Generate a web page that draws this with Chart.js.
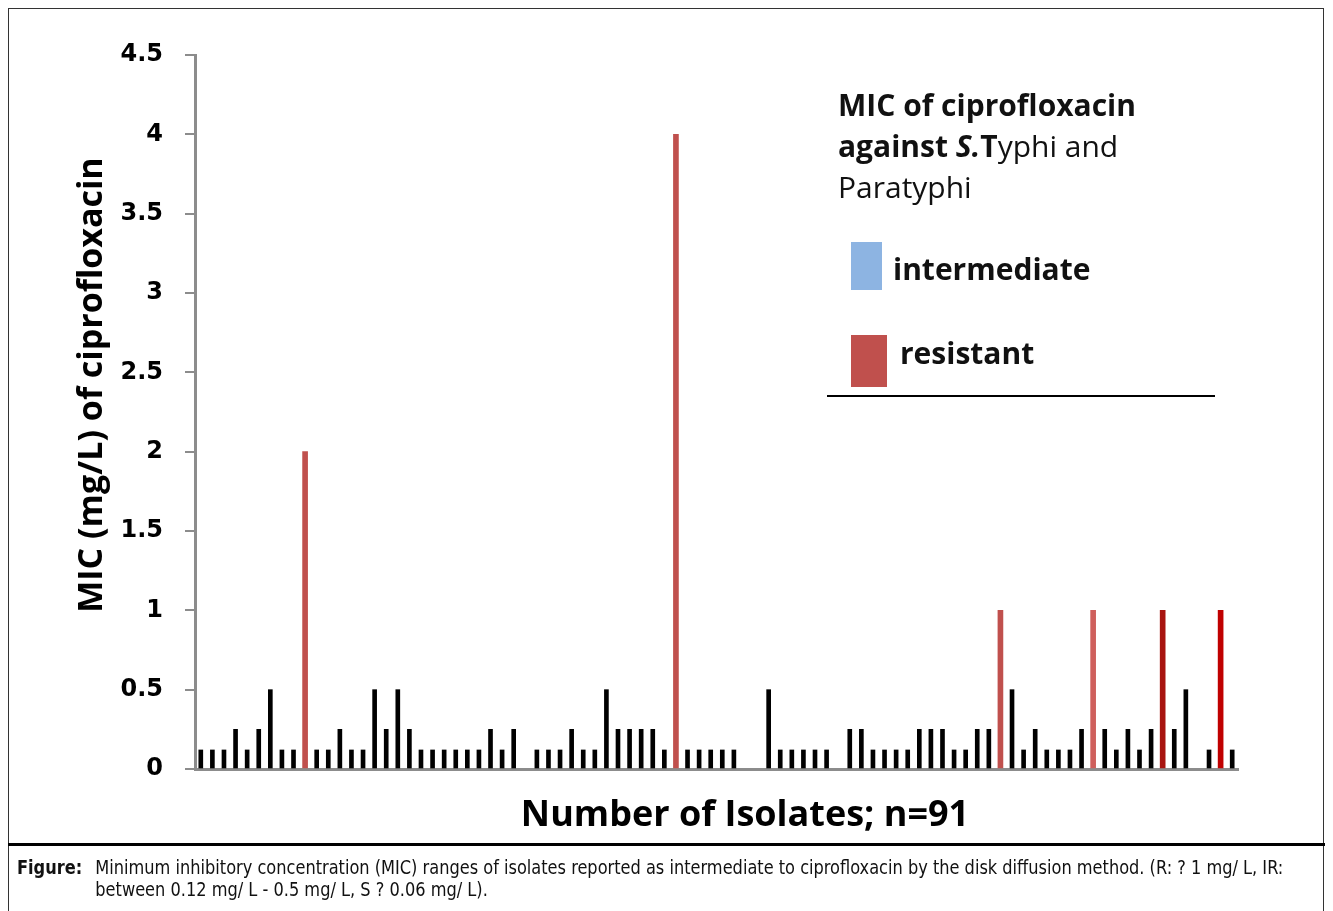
<!DOCTYPE html>
<html>
<head>
<meta charset="utf-8">
<script src="https://cdn.jsdelivr.net/npm/chart.js@4.4.1/dist/chart.umd.min.js"></script>
<style>
  html, body { margin: 0; padding: 0; background: #fff; }
  #wrap { position: relative; width: 1333px; height: 911px; overflow: hidden; }
  #frame { position: absolute; left: 8px; top: 8px; width: 1316px; height: 920px; border: 1px solid #333; box-sizing: border-box; }
  #sep { position: absolute; left: 8px; top: 843px; width: 1317px; height: 3px; background: #000; }
  #chart { position: absolute; left: 0; top: 0; }
  .leg { position: absolute; font-family: "Open Sans", sans-serif; font-size: 30px; color: #111; white-space: nowrap; line-height: 41px; }
  .box { position: absolute; }
  #legLine { position: absolute; left: 827px; top: 395px; width: 388px; height: 2px; background: #000; }
  #caption { position: absolute; left: 17px; top: 856px; font-family: "DejaVu Sans Condensed", sans-serif; font-size: 20px; line-height: 22px; color: #111; white-space: nowrap; transform: scaleX(0.9); transform-origin: 0 0; }
  #caption b { position: absolute; left: 0; top: 0; }
  #caption div { margin-left: 87px; }
</style>
</head>
<body>
<div id="wrap">
  <canvas id="chart" width="1333" height="845"></canvas>
  <div id="frame"></div>
  <div id="sep"></div>

  <div class="leg" style="left:838px; top:84px;"><b>MIC of ciprofloxacin</b><br><b>against <i>S.</i>T</b>yphi and<br>Paratyphi</div>
  <div class="box" style="left:851px; top:242px; width:31px; height:48px; background:#8DB4E2;"></div>
  <div class="leg" style="left:893px; top:248px; font-weight:bold;">intermediate</div>
  <div class="box" style="left:851px; top:335px; width:36px; height:52px; background:#C0504D;"></div>
  <div class="leg" style="left:900px; top:332px; font-weight:bold;">resistant</div>
  <div id="legLine"></div>

  <div id="caption"><b>Figure:</b><div>Minimum inhibitory concentration (MIC) ranges of isolates reported as intermediate to ciprofloxacin by the disk diffusion method. (R: ? 1 mg/ L, IR:<br>between 0.12 mg/ L - 0.5 mg/ L, S ? 0.06 mg/ L).</div></div>
</div>

<script>
// isolates 1..90 (slots on the x axis, no tick labels shown)
var isolates = [];
for (var i = 1; i <= 90; i++) isolates.push(String(i));

// MIC values of the intermediate isolates (black bars), null = no bar
var intermediate = [
  0.12, 0.12, 0.12, 0.25, 0.12, 0.25, 0.5, 0.12, 0.12, null,
  0.12, 0.12, 0.25, 0.12, 0.12, 0.5, 0.25, 0.5, 0.25, 0.12,
  0.12, 0.12, 0.12, 0.12, 0.12, 0.25, 0.12, 0.25, null, 0.12,
  0.12, 0.12, 0.25, 0.12, 0.12, 0.5, 0.25, 0.25, 0.25, 0.25,
  0.12, null, 0.12, 0.12, 0.12, 0.12, 0.12, null, null, 0.5,
  0.12, 0.12, 0.12, 0.12, 0.12, null, 0.25, 0.25, 0.12, 0.12,
  0.12, 0.12, 0.25, 0.25, 0.25, 0.12, 0.12, 0.25, 0.25, null,
  0.5, 0.12, 0.25, 0.12, 0.12, 0.12, 0.25, null, 0.25, 0.12,
  0.25, 0.12, 0.25, null, 0.25, 0.5, null, 0.12, null, 0.12
];

// MIC values of the resistant isolates (red bars)
var resistant = [
  null, null, null, null, null, null, null, null, null, 2,
  null, null, null, null, null, null, null, null, null, null,
  null, null, null, null, null, null, null, null, null, null,
  null, null, null, null, null, null, null, null, null, null,
  null, 4, null, null, null, null, null, null, null, null,
  null, null, null, null, null, null, null, null, null, null,
  null, null, null, null, null, null, null, null, null, 1,
  null, null, null, null, null, null, null, 1, null, null,
  null, null, null, 1, null, null, null, null, 1, null
];

var yTickLabels = ['0', '0.5', '1', '1.5', '2', '2.5', '3', '3.5', '4', '4.5'];

var yTitle = 'MIC (mg/L) of ciprofloxacin';
var xTitle = 'Number of Isolates; n=91';

// a few of the red bars have a different shade in the picture
var redShades = { 77: '#CF5F5C', 83: '#A8140F', 88: '#C00000' };

// axis titles drawn at the same spot as in the picture
var axisTitles = {
    id: 'axisTitles',
    afterDraw: function (chart) {
        var ctx = chart.ctx;
        ctx.save();
        ctx.fillStyle = '#000';
        ctx.textAlign = 'center';
        ctx.textBaseline = 'middle';
        ctx.font = 'bold 34px "Open Sans"';
        ctx.translate(92, 385);
        ctx.rotate(-Math.PI / 2);
        ctx.fillText(yTitle, 0, 0);
        ctx.restore();

        ctx.save();
        ctx.fillStyle = '#000';
        ctx.textAlign = 'center';
        ctx.textBaseline = 'middle';
        ctx.font = 'bold 36px "Open Sans"';
        ctx.fillText(xTitle, 745, 816);
        ctx.restore();
    }
};

var ctx = document.getElementById('chart').getContext('2d');

var chart = new Chart(ctx, {
    type: 'bar',
    data: {
        labels: isolates,
        datasets: [{
            label: 'intermediate',
            data: intermediate,
            backgroundColor: '#000',
            barThickness: 4,
            grouped: false
        },
        {
            label: 'resistant',
            data: resistant,
            backgroundColor: function (c) {
                return redShades[c.dataIndex] || '#C0504D';
            },
            barThickness: 5,
            grouped: false
        }]
    },
    options: {
        responsive: false,
        animation: false,
        layout: { padding: { left: 0, top: 55, right: 95, bottom: 76 } },
        plugins: {
            legend: { display: false },
            tooltip: { enabled: false }
        },
        scales: {
            x: {
                offset: true,
                ticks: { display: false },
                grid: { display: false },
                border: { color: '#8c8c8c', width: 3 },
                afterFit: function (scale) { scale.height = 0; }
            },
            y: {
                min: 0,
                max: 4.5,
                ticks: {
                    stepSize: 0.5,
                    padding: 22,
                    color: '#000',
                    font: { family: 'DejaVu Sans', weight: 'bold', size: 24 },
                    callback: function (v, idx) { return yTickLabels[idx]; }
                },
                grid: { drawOnChartArea: false, drawTicks: true, tickLength: 10, color: '#8c8c8c', lineWidth: 2 },
                border: { color: '#8c8c8c', width: 3 },
                afterFit: function (scale) { scale.width = 195; }
            }
        }
    },
    plugins: [axisTitles]
});
</script>
</body>
</html>
